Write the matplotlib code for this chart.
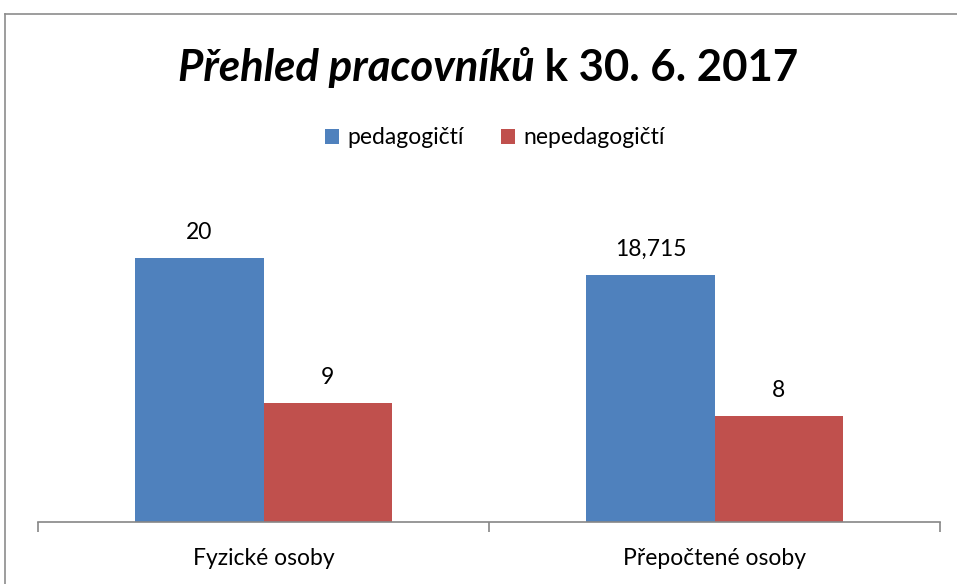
import matplotlib
matplotlib.use("Agg")
import matplotlib.pyplot as plt
from matplotlib.lines import Line2D
import numpy as np

plt.rcParams['font.family'] = ['Lato', 'DejaVu Sans']

categories = ['Fyzické osoby', 'Přepočtené osoby']
series = ['pedagogičtí', 'nepedagogičtí']
pedag = [20, 18.715]
nepedag = [9, 8]
value_labels = [['20', '18,715'], ['9', '8']]
colors = ['#4F81BD', '#C0504D']

W, H = 957, 584
fig = plt.figure(figsize=(W / 100, H / 100), dpi=100)

# outer border (only top and left visible in the picture)
fig.add_artist(Line2D([5 / W, 1], [1 - 14 / H, 1 - 14 / H], color='#8c8c8c', lw=1.2))
fig.add_artist(Line2D([5 / W, 5 / W], [0, 1 - 14 / H], color='#8c8c8c', lw=1.2))

ax_bottom = 522
ax_top = 180
ax = fig.add_axes([38 / W, (H - ax_bottom) / H, 902 / W, (ax_bottom - ax_top) / H])

x = np.arange(len(categories))
bw = 0.284
vals = [pedag, nepedag]
offs = [-bw / 2, bw / 2]
for i in range(2):
    bars = ax.bar(x + offs[i], vals[i], bw, color=colors[i], label=series[i])
    for b, lab in zip(bars, value_labels[i]):
        ax.annotate(lab, (b.get_x() + b.get_width() / 2, b.get_height()),
                    xytext=(0, 11), textcoords='offset points',
                    ha='center', va='bottom', fontsize=16.5)

ax.set_xlim(-0.5, 1.5)
ax.set_ylim(0, (ax_bottom - ax_top) / 13.2)
for s in ['top', 'left', 'right']:
    ax.spines[s].set_visible(False)
ax.spines['bottom'].set_color('#868686')
ax.spines['bottom'].set_linewidth(1.2)
ax.set_yticks([])
ax.set_xticks([-0.5, 0.5, 1.5])
ax.set_xticklabels([])
ax.tick_params(axis='x', which='major', length=7, color='#868686', width=1.2)
ax.set_xticks(x, minor=True)
ax.set_xticklabels(categories, minor=True, fontsize=16.5)
ax.tick_params(axis='x', which='minor', length=0, pad=19)

leg = fig.legend(loc='center', bbox_to_anchor=(495 / W, 1 - 138 / H), ncol=2,
                 frameon=False, fontsize=16.5, handlelength=0.6, handleheight=0.6,
                 handletextpad=0.4, columnspacing=1.6)

# title with italic first part
fig.canvas.draw()
r = fig.canvas.get_renderer()
ty = 1 - 68 / H
t1 = fig.text(0, ty, 'Přehled pracovníků', fontsize=31.5, fontweight='bold',
              fontstyle='italic', va='center', ha='left')
t2 = fig.text(0, ty, ' k 30. 6. 2017', fontsize=31.5, fontweight='bold',
              va='center', ha='left')
w1 = t1.get_window_extent(r).width
w2 = t2.get_window_extent(r).width
start = 488 - (w1 + w2) / 2
t1.set_x(start / W)
t2.set_x((start + w1) / W)

fig.savefig('out.png', dpi=100)
